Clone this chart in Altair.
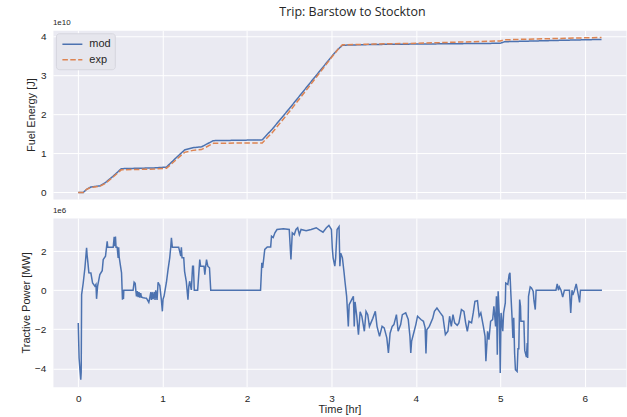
import altair as alt
import pandas as pd

# Cumulative fuel energy along the trip, in units of 1e10 J
energy_time_hr = [0.0, 0.06, 0.10, 0.15, 0.26, 0.32, 0.42, 0.51, 0.70, 0.90, 1.045,
                  1.15, 1.26, 1.36, 1.46, 1.60, 1.90, 2.18, 2.30, 2.50, 2.75, 3.01,
                  3.08, 3.13, 3.50, 4.00, 4.50, 5.00, 5.05, 5.60, 6.20]
fuel_mod = [0.0, 0.0, 0.08, 0.14, 0.17, 0.25, 0.43, 0.61, 0.62, 0.63, 0.65,
            0.87, 1.09, 1.15, 1.17, 1.33, 1.34, 1.35, 1.63, 2.15, 2.82, 3.51,
            3.68, 3.78, 3.80, 3.81, 3.82, 3.83, 3.87, 3.90, 3.93]
fuel_exp = [0.0, 0.0, 0.08, 0.13, 0.16, 0.23, 0.41, 0.58, 0.59, 0.60, 0.62,
            0.82, 1.03, 1.08, 1.10, 1.26, 1.27, 1.27, 1.54, 2.07, 2.76, 3.49,
            3.68, 3.79, 3.81, 3.83, 3.86, 3.89, 3.92, 3.95, 3.98]

# Tractive power along the trip, in units of 1e6 W
power_time_hr = [
    0.000, 0.010, 0.020, 0.030, 0.035, 0.040, 0.059, 0.079, 0.099, 0.105,
    0.111, 0.126, 0.150, 0.170, 0.197, 0.210, 0.217, 0.229, 0.256, 0.284,
    0.296, 0.323, 0.343, 0.350, 0.380, 0.414, 0.426, 0.433, 0.441, 0.448,
    0.461, 0.473, 0.479, 0.485, 0.501, 0.513, 0.524, 0.530, 0.536, 0.540,
    0.650, 0.662, 0.675, 0.682, 0.690, 0.700, 0.710, 0.720, 0.730, 0.740,
    0.749, 0.770, 0.790, 0.808, 0.836, 0.845, 0.860, 0.867, 0.875, 0.887,
    0.900, 0.910, 0.918, 0.934, 0.946, 0.958, 0.966, 0.985, 0.997, 1.005,
    1.017, 1.045, 1.064, 1.084, 1.096, 1.104, 1.115, 1.135, 1.160, 1.190,
    1.215, 1.222, 1.230, 1.250, 1.260, 1.280, 1.300, 1.310, 1.320, 1.340,
    1.355, 1.365, 1.375, 1.415, 1.440, 1.450, 1.470, 1.490, 1.500, 1.510,
    1.520, 1.535, 1.555, 1.570, 2.160, 2.175, 2.185, 2.210, 2.240, 2.280,
    2.290, 2.310, 2.330, 2.355, 2.430, 2.500, 2.520, 2.536, 2.560, 2.580,
    2.600, 2.620, 2.640, 2.700, 2.760, 2.820, 2.860, 2.900, 2.940, 2.970,
    3.000, 3.010, 3.020, 3.040, 3.050, 3.067, 3.090, 3.100, 3.110, 3.130,
    3.150, 3.160, 3.180, 3.200, 3.210, 3.240, 3.260, 3.270, 3.280, 3.300,
    3.320, 3.340, 3.360, 3.390, 3.410, 3.430, 3.450, 3.490, 3.520, 3.540,
    3.570, 3.600, 3.625, 3.656, 3.675, 3.695, 3.720, 3.740, 3.770, 3.790,
    3.820, 3.840, 3.880, 3.910, 3.930, 3.940, 3.950, 3.980, 4.000, 4.020,
    4.060, 4.090, 4.110, 4.120, 4.130, 4.160, 4.200, 4.220, 4.250, 4.290,
    4.320, 4.350, 4.380, 4.400, 4.420, 4.440, 4.460, 4.490, 4.510, 4.540,
    4.570, 4.590, 4.610, 4.630, 4.660, 4.680, 4.700, 4.730, 4.750, 4.770,
    4.800, 4.820, 4.830, 4.850, 4.866, 4.886, 4.910, 4.925, 4.945, 4.955,
    4.965, 4.975, 4.990, 5.000, 5.010, 5.030, 5.040, 5.060, 5.065, 5.090,
    5.105, 5.115, 5.125, 5.140, 5.150, 5.160, 5.170, 5.180, 5.200, 5.210,
    5.220, 5.230, 5.240, 5.245, 5.280, 5.290, 5.310, 5.320, 5.325, 5.335,
    5.355, 5.370, 5.390, 5.400, 5.415, 5.425, 5.660, 5.675, 5.690, 5.700,
    5.720, 5.740, 5.760, 5.820, 5.835, 5.850, 5.860, 5.880, 5.900, 5.925,
    5.940, 5.950, 6.205,
]
tractive_power = [
    -1.68, -3.47, -4.07, -4.58, -4.20, -0.22, 0.37, 1.14, 2.17, 1.80,
    1.57, 0.89, 0.88, 0.37, 0.21, 0.30, -0.44, 0.20, 0.80, 1.00,
    1.57, 1.74, 2.51, 2.20, 2.20, 2.20, 2.73, 2.25, 2.75, 2.20,
    2.20, 1.66, 2.20, 1.70, 1.23, 0.89, -0.48, 0.00, -0.45, 0.00,
    0.00, 0.41, 0.35, 0.00, -0.31, -0.05, -0.35, -0.10, -0.38, -0.15,
    -0.35, -0.38, -0.40, -0.41, -0.62, -0.45, -0.10, -0.50, -0.10, -0.45,
    -0.10, -0.50, 0.00, -0.50, 0.41, 0.30, 0.25, -0.50, -1.08, -0.45,
    -0.30, 0.41, 1.06, 1.66, 2.20, 2.68, 2.20, 2.20, 2.20, 2.20,
    1.75, 2.20, 1.66, 1.66, 0.97, 0.46, -0.48, 0.20, 0.46, 0.02,
    1.23, 1.23, 0.00, 0.00, 1.57, 1.23, 1.23, 1.23, 0.80, 1.23,
    1.57, 1.23, 1.15, 0.00, 0.00, 1.40, 1.14, 2.09, 2.22, 2.22,
    2.77, 2.70, 2.94, 3.11, 3.15, 3.11, 1.57, 2.94, 2.85, 3.11,
    3.20, 2.85, 3.11, 3.05, 3.11, 3.20, 3.08, 2.97, 3.20, 3.32,
    3.11, 2.17, 1.66, 1.23, 1.66, 3.11, 3.26, 1.23, 1.90, 1.66,
    0.89, 0.46, -0.31, -1.85, -0.74, -0.48, -0.31, -1.85, -0.60, -1.33,
    -2.27, -1.10, -1.33, -2.10, -1.08, -1.25, -1.85, -1.44, -1.08, -1.85,
    -2.36, -1.85, -1.93, -2.44, -3.21, -2.20, -1.85, -1.76, -1.25, -2.10,
    -1.76, -1.25, -1.16, -1.50, -2.36, -3.21, -2.60, -2.10, -1.76, -1.33,
    -1.50, -1.59, -1.93, -3.24, -2.02, -1.85, -1.44, -1.08, -0.91, -1.16,
    -1.33, -2.27, -2.10, -1.33, -1.85, -1.25, -1.67, -1.80, -1.67, -0.99,
    -1.08, -1.67, -2.10, -1.59, -1.67, -1.16, -0.57, -0.54, -1.33, -1.16,
    -1.85, -2.36, -3.64, -2.10, -2.53, -1.59, -1.50, -0.82, -1.85, -0.31,
    -3.30, -0.05, -1.41, -4.24, -1.16, -2.10, -1.16, -0.65, 0.37, 0.30,
    0.80, 0.89, -0.10, -1.41, -2.44, -1.41, -3.21, -4.07, -4.16, -3.00,
    -3.00, -0.48, -0.82, -1.59, -1.59, -3.08, -3.42, -2.70, -3.47, -0.31,
    0.17, 0.12, -0.05, -0.55, -0.99, 0.00, 0.00, 0.32, 0.00, 0.17,
    0.00, -0.35, 0.00, 0.00, -1.16, 0.00, -0.25, 0.00, 0.32, -0.25,
    -0.62, 0.00, 0.00,
]

series_names = ["mod", "exp"]
series_colors = ["#4C72B0", "#DD8452"]
series_dashes = [[1, 0], [5.5, 2.4]]
hour_ticks = [0, 1, 2, 3, 4, 5, 6]
energy_ticks = [0, 1e10, 2e10, 3e10, 4e10]
power_ticks = [-4e6, -2e6, 0, 2e6]

n = len(energy_time_hr)
energy_df = pd.DataFrame({
    "time": energy_time_hr + energy_time_hr,
    "energy": [v * 1e10 for v in fuel_mod] + [v * 1e10 for v in fuel_exp],
    "series": ["mod"] * n + ["exp"] * n,
})
power_df = pd.DataFrame({
    "time": power_time_hr,
    "power": [v * 1e6 for v in tractive_power],
})

TEXT = "#262626"
FONT = "Liberation Sans"
x_scale = alt.Scale(domain=[-0.3, 6.49], nice=False, zero=False)

# Legend keys: a 20 px horizontal stroke drawn from a short symbol slot
legend = alt.Legend(
    title=None, orient="top-left", offset=3,
    fillColor="#e6e6ed", strokeColor="#d6d6de", cornerRadius=3,
    padding=4, rowPadding=3.6,
    symbolType="M-1.667,0H1.667", symbolSize=144, symbolOffset=5.5,
    symbolStrokeWidth=1.5, labelOffset=10, labelFontSize=11,
    labelFont=FONT, labelColor=TEXT,
)

energy_lines = alt.Chart(energy_df).mark_line(strokeWidth=1.5, clip=True).encode(
    x=alt.X("time:Q", scale=x_scale,
            axis=alt.Axis(values=hour_ticks, labels=False, title=None)),
    y=alt.Y("energy:Q",
            scale=alt.Scale(domain=[-0.169e10, 4.164e10], nice=False, zero=False),
            axis=alt.Axis(values=energy_ticks,
                          labelExpr="format(datum.value / 1e10, 'd')",
                          title="Fuel Energy [J]")),
    color=alt.Color("series:N",
                    scale=alt.Scale(domain=series_names, range=series_colors),
                    legend=legend),
    strokeDash=alt.StrokeDash("series:N",
                              scale=alt.Scale(domain=series_names, range=series_dashes),
                              legend=legend),
)
energy_exponent = alt.Chart(pd.DataFrame({"txt": ["1e10"]})).mark_text(
    align="left", baseline="middle", fontSize=8, font=FONT, color=TEXT
).encode(x=alt.value(0), y=alt.value(-7), text="txt:N")

top = alt.layer(energy_lines, energy_exponent).properties(width=574, height=169)

power_line = alt.Chart(power_df).mark_line(
    strokeWidth=1.5, color="#4C72B0", clip=True
).encode(
    x=alt.X("time:Q", scale=x_scale,
            axis=alt.Axis(values=hour_ticks, format="d", title="Time [hr]",
                          titlePadding=0)),
    y=alt.Y("power:Q",
            scale=alt.Scale(domain=[-4.94e6, 3.70e6], nice=False, zero=False),
            axis=alt.Axis(values=power_ticks,
                          labelExpr="replace(format(datum.value / 1e6, 'd'), '-', '\u2212')",
                          title="Tractive Power [MW]", titlePadding=3)),
)
power_exponent = alt.Chart(pd.DataFrame({"txt": ["1e6"]})).mark_text(
    align="left", baseline="middle", fontSize=8, font=FONT, color=TEXT
).encode(x=alt.value(0), y=alt.value(-7), text="txt:N")

bottom = alt.layer(power_line, power_exponent).properties(width=574, height=169)

chart = alt.vconcat(top, bottom, spacing=19, bounds="flush").properties(
    title=alt.TitleParams(
        "Trip: Barstow to Stockton", font="Open Sans", fontSize=12.5,
        fontWeight="normal", color=TEXT, anchor="middle", frame="group",
        dx=13, dy=4,
    ),
    padding={"left": 20, "top": 6, "right": 0, "bottom": 0},
).configure_view(
    fill="#EAEAF2", stroke="transparent"
).configure_axis(
    grid=True, gridColor="white", gridWidth=1, domain=False, ticks=False,
    tickSize=0, labelPadding=7, titlePadding=4,
    labelFont=FONT, labelFontSize=10, labelColor=TEXT,
    titleFont=FONT, titleFontSize=11, titleFontWeight="normal", titleColor=TEXT,
)

chart.save("out.html", embed_options={"renderer": "svg", "actions": False})
